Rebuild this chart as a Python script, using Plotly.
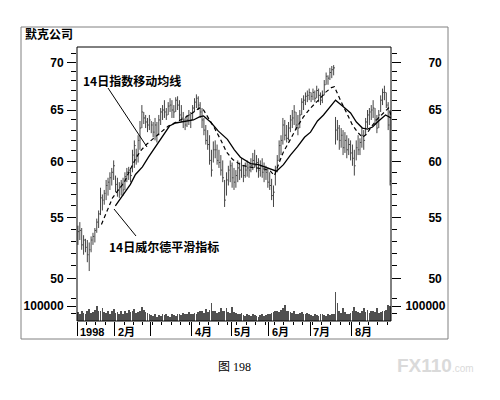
import math
import plotly.graph_objects as go

# ---------------- data ----------------
month_labels = ["1998", "2月", "", "4月", "5月", "6月", "7月", "8月"]
month_days = [20, 19, 22, 21, 20, 22, 22, 21]  # trading days per month

high = [
    # Jan
    54.3, 54.6, 54.1, 53.5, 53.2, 53.1, 52.9, 53.4, 53.7, 54.1,
    54.9, 55.6, 57.6, 57.0, 57.4, 58.3, 58.5, 59.0, 59.4, 60.1,
    # Feb
    58.7, 58.5, 58.1, 58.3, 58.5, 59.0, 59.4, 59.5, 59.4, 61.1,
    62.0, 61.2, 62.5, 63.9, 65.5, 64.8, 64.5, 64.2, 64.5,
    # Mar
    63.9, 63.8, 64.2, 63.8, 64.5, 65.2, 65.5, 66.0, 65.2, 65.8,
    66.2, 66.0, 65.5, 66.3, 66.4, 66.0, 65.5, 64.8, 64.2, 64.5,
    65.0, 64.8,
    # Apr
    65.5, 66.2, 66.6, 66.4, 65.8, 65.2, 64.2, 63.5, 63.0, 62.5,
    61.1, 61.9, 62.0, 61.6, 61.1, 60.6, 60.1, 58.3, 59.0, 59.6,
    60.1,
    # May
    59.9, 59.4, 59.2, 60.1, 59.9, 60.3, 59.6, 59.9, 60.1, 59.8,
    60.3, 60.8, 61.1, 60.6, 60.3, 60.1, 60.3, 59.9, 59.6, 59.4,
    # Jun
    59.0, 58.4, 57.8, 59.6, 60.6, 62.0, 62.5, 64.2, 64.0, 63.5,
    63.8, 64.5, 65.0, 65.5, 64.8, 64.5, 65.0, 66.2, 66.5, 66.8,
    67.0, 67.2,
    # Jul
    66.8, 67.2, 67.0, 67.5, 67.2, 66.8, 67.0, 68.1, 68.9, 68.6,
    69.4, 69.6, 69.7, 64.3, 64.0, 63.5, 63.2, 63.0, 62.8, 62.5,
    62.2, 62.0,
    # Aug
    61.6, 61.1, 62.0, 62.5, 62.2, 63.2, 63.0, 64.2, 65.0, 65.2,
    65.5, 66.0, 65.2, 64.5, 65.0, 66.5, 67.2, 67.5, 66.8, 65.8,
    65.0,
]
low = [
    52.7, 53.1, 52.3, 51.9, 52.1, 51.3, 50.6, 52.1, 52.7, 52.9,
    53.7, 54.1, 55.2, 55.6, 56.1, 56.5, 56.9, 57.4, 57.8, 58.3,
    57.2, 56.8, 56.7, 56.9, 56.9, 57.4, 58.1, 58.3, 58.1, 59.0,
    59.4, 59.7, 59.9, 61.1, 63.2, 63.6, 63.2, 62.8, 63.0,
    62.7, 62.3, 62.0, 61.8, 62.5, 63.5, 64.0, 64.2, 64.0, 64.5,
    64.8, 64.2, 64.2, 64.8, 65.0, 64.0, 63.8, 63.2, 63.0, 63.3,
    63.5, 63.2,
    64.0, 64.8, 65.2, 65.0, 64.2, 63.2, 62.5, 61.6, 61.1, 59.7,
    58.6, 59.9, 60.3, 59.7, 59.4, 58.7, 58.1, 55.9, 56.9, 57.8,
    58.1,
    57.6, 57.4, 57.6, 58.1, 58.3, 58.5, 58.1, 58.5, 58.6, 58.5,
    59.0, 59.2, 59.4, 59.0, 58.5, 58.6, 58.5, 58.1, 58.3, 57.6,
    57.4, 56.5, 55.9, 57.8, 59.0, 60.1, 60.6, 61.6, 62.0, 61.8,
    62.0, 62.8, 63.2, 63.5, 63.0, 62.5, 63.2, 64.5, 65.0, 65.5,
    65.8, 66.0,
    65.8, 66.0, 65.8, 66.2, 65.8, 65.5, 65.7, 66.5, 67.6, 67.6,
    68.1, 68.3, 68.6, 61.6, 62.0, 61.1, 61.3, 60.6, 60.8, 60.3,
    60.6, 60.1,
    59.6, 58.7, 60.1, 60.6, 60.6, 61.3, 61.1, 62.5, 63.2, 63.5,
    64.0, 64.2, 63.5, 62.7, 63.2, 64.8, 65.5, 66.0, 65.2, 63.0,
    57.8,
]
close = [
    53.8, 53.9, 52.7, 53.1, 52.5, 51.9, 52.3, 53.1, 53.4, 53.9,
    54.6, 55.3, 56.7, 56.5, 57.1, 57.8, 58.1, 58.5, 59.0, 59.6,
    57.9, 57.4, 57.6, 58.0, 57.4, 58.6, 59.0, 59.2, 58.7, 60.6,
    61.5, 60.6, 62.0, 63.2, 64.8, 64.2, 63.8, 63.5, 64.0,
    63.5, 62.8, 63.5, 62.5, 64.0, 64.8, 65.0, 64.8, 64.5, 65.4,
    65.5, 65.0, 64.8, 66.0, 65.5, 64.5, 64.2, 64.0, 63.5, 64.0,
    64.5, 64.0,
    65.2, 65.8, 66.2, 65.5, 64.8, 64.0, 63.0, 62.0, 61.6, 60.1,
    59.2, 61.1, 61.1, 60.1, 59.9, 59.2, 58.5, 56.5, 58.3, 59.2,
    59.6,
    58.5, 58.1, 58.7, 59.4, 59.2, 59.6, 58.7, 59.2, 59.4, 59.2,
    59.6, 60.1, 59.6, 59.9, 59.2, 59.6, 59.0, 59.2, 59.0, 58.1,
    57.8, 56.9, 57.2, 59.2, 60.1, 61.5, 62.0, 63.5, 62.5, 62.2,
    63.2, 64.0, 64.2, 64.8, 63.5, 63.2, 64.5, 65.8, 66.0, 66.4,
    66.5, 66.8,
    66.4, 66.8, 66.2, 67.0, 66.5, 66.0, 66.5, 67.6, 68.5, 68.3,
    68.9, 69.2, 69.4, 63.0, 63.2, 62.0, 62.5, 61.3, 62.0, 61.1,
    61.6, 60.8,
    60.3, 59.6, 61.3, 61.1, 61.8, 62.5, 62.0, 63.8, 64.5, 64.8,
    65.0, 65.2, 64.0, 63.2, 64.5, 66.0, 66.8, 66.8, 65.5, 63.5,
    58.2,
]
volume_k = [
    60, 45, 70, 55, 50, 65, 80, 55, 60, 75, 105, 70, 65, 85, 60, 55, 70, 50, 65, 80,
    55, 60, 45, 70, 50, 65, 55, 75, 60, 70, 80, 55, 60, 70, 95, 75, 60, 55, 50,
    40, 35, 45, 30, 40, 35, 45, 40, 50, 35, 30, 45, 40, 35, 50, 45, 40, 55, 45, 50, 60, 45,
    50, 55, 45, 60, 65, 70, 55, 80, 60, 75, 120, 70, 65, 55, 60, 85, 70, 65, 90, 60, 55,
    95, 60, 55, 50, 45, 55, 40, 35, 45, 40, 35, 45, 40, 35, 30, 40, 45, 35, 40, 45,
    50, 55, 60, 65, 70, 60, 75, 85, 110, 70, 65, 60, 55, 70, 50, 45, 55, 60, 50, 45, 55, 50,
    40, 35, 45, 40, 35, 50, 45, 40, 35, 45, 40, 45, 50, 195, 120, 70, 55, 85, 60, 50, 45, 55,
    70, 95, 65, 60, 55, 70, 90, 60, 75, 55, 65, 70, 60, 90, 55, 60, 65, 70, 75, 110, 100,
]  # thousands of shares

# 14-day exponential moving average (dashed)
ema_day = [12.5, 15.2, 18.4, 21.5, 24.7, 27.9, 31.1, 33.8, 36.4, 39.6, 43.9, 48.1,
           52.4, 56.6, 60.9, 64.6, 66.8, 69.4, 72.6, 75.8, 79.0, 82.2, 86.4, 90.7,
           94.9, 99.2, 102.4, 104.5, 106.6, 109.3, 113.0, 116.2, 119.9, 123.7,
           127.9, 131.6, 134.8, 136.4, 139.6, 142.8, 146.0, 148.7, 151.3, 153.5,
           156.7, 159.8, 163.0, 165.2, 166.5]
ema_val = [54.4, 55.5, 56.7, 57.4, 58.1, 59.3, 60.4, 61.1, 61.6, 62.1, 62.8, 63.4,
           63.8, 64.2, 64.7, 65.2, 65.0, 64.2, 63.2, 62.1, 60.9, 60.2, 59.7, 59.5,
           59.4, 59.3, 59.1, 58.7, 59.7, 60.9, 62.1, 63.2, 64.3, 65.2,
           66.0, 66.8, 67.3, 67.4, 66.0, 64.8, 63.5, 62.8, 62.3, 62.6,
           63.5, 64.2, 64.8, 65.2, 64.5]

# 14-day Wilder smoothing (solid)
wilder_day = [19.9, 22.6, 25.3, 27.9, 30.6, 34.3, 37.5, 41.2, 44.9, 48.7, 51.9,
              54.5, 58.2, 61.4, 64.6, 66.8, 70.5, 74.7, 79.5, 83.2, 86.4, 91.8,
              96.0, 99.2, 102.4, 105.6, 109.3, 113.0, 116.8, 120.5, 123.7, 127.4,
              130.6, 133.8, 137.0, 140.7, 145.0, 148.1, 151.3, 154.0, 156.7, 159.3,
              163.6, 166.5]
wilder_val = [56.0, 56.6, 57.2, 57.9, 58.8, 59.5, 60.4, 61.4, 62.3, 63.4, 63.7,
              63.8, 63.9, 64.0, 64.3, 64.4, 63.8, 62.9, 62.1, 61.1, 60.4, 59.8,
              59.7, 59.5, 59.3, 59.1, 59.7, 60.6, 61.4, 62.3, 62.8, 63.9,
              64.5, 65.3, 66.0, 65.4, 64.7, 63.8, 63.2, 63.1, 63.3, 63.8,
              64.5, 64.2]

price_ticks = [50, 55, 60, 65, 70]
price_minor = list(range(49, 72))
volume_ticks = [100000]

# ---------------- build ----------------
n = len(close)
month_starts = []
s = 0
for d in month_days:
    month_starts.append(s)
    s += d
month_edges = [m - 0.5 for m in month_starts]

bx, by = [], []
for i in range(n):
    bx += [i, i, None, i, i + 0.7, None]
    by += [low[i], high[i], None, close[i], close[i], None]

volume = [v * 1000 for v in volume_k]

BAR = "#454545"
fig = go.Figure()
fig.add_trace(go.Scatter(x=bx, y=by, mode="lines", line=dict(color=BAR, width=1),
                         hoverinfo="skip", yaxis="y"))
fig.add_trace(go.Scatter(x=ema_day, y=ema_val, mode="lines",
                         line=dict(color="black", width=1.2, dash="4px,3px"), yaxis="y"))
fig.add_trace(go.Scatter(x=wilder_day, y=wilder_val, mode="lines",
                         line=dict(color="black", width=1.3), yaxis="y"))
fig.add_trace(go.Bar(x=list(range(n)), y=volume, width=0.4,
                     marker=dict(color="#505050", line=dict(width=0)), yaxis="y2"))

# page geometry (pixels in the 500x400 window; the page body adds an 8px offset)
OFF = 8
PL, PR, PT, PB = 77, 391, 47, 321          # plot-area edges on the page
FW, FH = 500 - OFF, 400 - OFF
L, T = PL - OFF, PT - OFF
R, B = FW - (PR - OFF), FH - (PB - OFF)
PW, PH = PR - PL, PB - PT
def px_x(X):
    return (X - PL) / PW
def px_y(Y):
    return (PB - Y) / PH

price_dom = [px_y(290), 1]
vol_dom = [0, px_y(290)]
plo, phi = 49.13, 71.69
prange = [math.log10(plo), math.log10(phi)]
vrange = [0, 210000]

TF = dict(family="Liberation Sans Narrow, Arial Narrow, Liberation Sans, Arial",
          size=12, color="black", weight="bold")
CJK = "Noto Sans CJK SC, Liberation Sans, sans-serif"

common_y = dict(showgrid=False, zeroline=False, showline=False, ticks="outside",
                ticklen=9, tickcolor="black", tickwidth=1, tickfont=TF)

fig.update_layout(
    width=FW, height=FH, margin=dict(l=L, r=R, t=T, b=B),
    paper_bgcolor="white", plot_bgcolor="white", showlegend=False, bargap=0,
    xaxis=dict(range=[-0.5, n - 0.5], anchor="y2", showgrid=False, zeroline=False,
               tickmode="array", tickvals=month_edges, ticks="outside", ticklen=14,
               tickcolor="black", showticklabels=False,
               minor=dict(ticks="outside", ticklen=3, tickcolor="black",
                          tickmode="linear", tick0=-0.5, dtick=5)),
    yaxis=dict(domain=price_dom, type="log", range=prange, tickmode="array",
               tickvals=price_ticks, ticktext=[str(v) for v in price_ticks],
               ticklabelstandoff=1,
               minor=dict(ticks="outside", ticklen=5, tickcolor="black",
                          tickvals=price_minor), **common_y),
    yaxis2=dict(domain=vol_dom, range=vrange, tickmode="array", tickvals=volume_ticks,
                ticktext=[str(v) for v in volume_ticks], ticklabelstandoff=1,
                minor=dict(ticks="outside", ticklen=5, tickcolor="black",
                           tickvals=[50000, 150000]), **common_y),
    yaxis3=dict(overlaying="y", side="right", anchor="x", type="log", range=prange,
                tickmode="array", tickvals=price_ticks,
                ticktext=[str(v) for v in price_ticks], ticklabelstandoff=25,
                minor=dict(ticks="outside", ticklen=5, tickcolor="black",
                           tickvals=price_minor), **common_y),
    yaxis4=dict(overlaying="y2", side="right", anchor="x", range=vrange,
                tickmode="array", tickvals=volume_ticks,
                ticktext=[str(v) for v in volume_ticks], ticklabelstandoff=2,
                minor=dict(ticks="outside", ticklen=5, tickcolor="black",
                           tickvals=[50000, 150000]), **common_y),
)
# invisible anchors so the right-hand axes render
fig.add_trace(go.Scatter(x=[None], y=[None], yaxis="y3", hoverinfo="skip"))
fig.add_trace(go.Scatter(x=[None], y=[None], yaxis="y4", hoverinfo="skip"))

shapes = [
    dict(type="rect", xref="paper", yref="paper", x0=0, x1=1, y0=0, y1=1,
         line=dict(color="black", width=1)),
    dict(type="rect", xref="paper", yref="paper", x0=px_x(21), x1=px_x(448),
         y0=px_y(339), y1=px_y(27), line=dict(color="#808080", width=1)),
    dict(type="line", xref="paper", yref="paper", x0=px_x(108), y0=px_y(88),
         x1=px_x(147), y1=px_y(147), line=dict(color="black", width=1)),
    dict(type="line", xref="paper", yref="paper", x0=px_x(136), y0=px_y(236),
         x1=px_x(114), y1=px_y(209), line=dict(color="black", width=1)),
]
fig.update_layout(shapes=shapes)

ann = [
    dict(text="默克公司", x=px_x(23), y=px_y(34), xref="paper", yref="paper",
         xanchor="left", yanchor="middle", showarrow=False,
         font=dict(family=CJK, size=12, color="black", weight="bold")),
    dict(text="14日指数移动均线", x=px_x(81), y=px_y(80), xref="paper", yref="paper",
         xanchor="left", yanchor="middle", showarrow=False,
         font=dict(family=CJK, size=12, color="black", weight="bold")),
    dict(text="14日威尔德平滑指标", x=px_x(107), y=px_y(246), xref="paper", yref="paper",
         xanchor="left", yanchor="middle", showarrow=False,
         font=dict(family=CJK, size=12, color="black", weight="bold")),
    dict(text="图 198", x=px_x(234), y=px_y(367), xref="paper", yref="paper",
         xanchor="center", yanchor="middle", showarrow=False,
         font=dict(family="Liberation Serif, Noto Sans CJK SC", size=12, color="black")),
    dict(text="<b>FX110</b><span style='font-size:10px'>.com</span>",
         x=px_x(395), y=px_y(365), xref="paper", yref="paper",
         xanchor="left", yanchor="middle", showarrow=False,
         font=dict(family="Liberation Sans, Arial", size=19, color="#dadada")),
]
for lab, edge in zip(month_labels, month_edges):
    if lab:
        ann.append(dict(text=lab, x=edge + 0.6, y=px_y(332), xref="x", yref="paper",
                        xanchor="left", yanchor="middle", showarrow=False,
                        font=dict(family="Liberation Sans Narrow, Liberation Sans, Noto Sans CJK SC",
                                  size=11, color="black", weight="bold")))
fig.update_layout(annotations=ann)

fig.write_html("out.html")
